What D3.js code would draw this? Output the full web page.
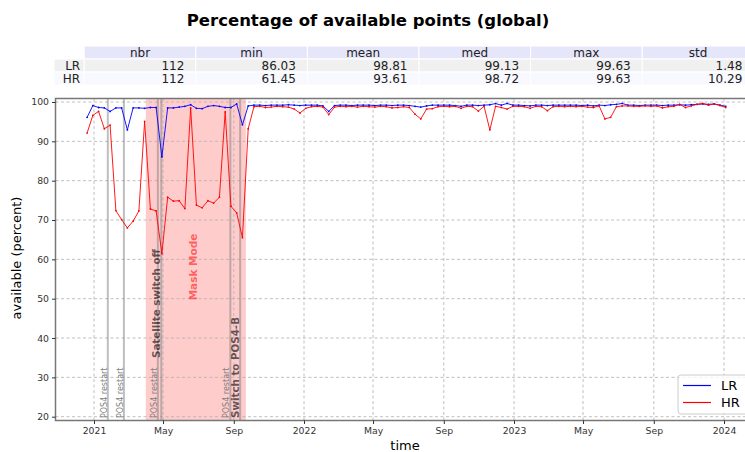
<!DOCTYPE html>
<html><head><meta charset="utf-8">
<script src="https://cdn.jsdelivr.net/npm/d3@7"></script>
<style>
body{margin:0;background:#fff;}
svg{display:block;font-family:"DejaVu Sans",sans-serif;}
</style>
</head><body>
<svg id="chart" width="745" height="452"></svg>
<script>
const dates = [
"2020-12-20","2020-12-30","2021-01-09","2021-01-19","2021-01-29","2021-02-08","2021-02-18","2021-02-28","2021-03-10","2021-03-20",
"2021-03-30","2021-04-09","2021-04-19","2021-04-29","2021-05-09","2021-05-19","2021-05-29","2021-06-08","2021-06-18","2021-06-28",
"2021-07-08","2021-07-18","2021-07-28","2021-08-07","2021-08-17","2021-08-27","2021-09-06","2021-09-16","2021-09-26","2021-10-06",
"2021-10-16","2021-10-26","2021-11-05","2021-11-15","2021-11-25","2021-12-05","2021-12-15","2021-12-25","2022-01-04","2022-01-14",
"2022-01-24","2022-02-03","2022-02-13","2022-02-23","2022-03-05","2022-03-15","2022-03-25","2022-04-04","2022-04-14","2022-04-24",
"2022-05-04","2022-05-14","2022-05-24","2022-06-03","2022-06-13","2022-06-23","2022-07-03","2022-07-13","2022-07-23","2022-08-02",
"2022-08-12","2022-08-22","2022-09-01","2022-09-11","2022-09-21","2022-10-01","2022-10-11","2022-10-21","2022-10-31","2022-11-10",
"2022-11-20","2022-11-30","2022-12-10","2022-12-20","2022-12-30","2023-01-09","2023-01-19","2023-01-29","2023-02-08","2023-02-18",
"2023-02-28","2023-03-10","2023-03-20","2023-03-30","2023-04-09","2023-04-19","2023-04-29","2023-05-09","2023-05-19","2023-05-29",
"2023-06-08","2023-06-18","2023-06-28","2023-07-08","2023-07-18","2023-07-28","2023-08-07","2023-08-17","2023-08-27","2023-09-06",
"2023-09-16","2023-09-26","2023-10-06","2023-10-16","2023-10-26","2023-11-05","2023-11-15","2023-11-25","2023-12-05","2023-12-15",
"2023-12-25","2024-01-04"];

const lrValues = [
96.1,99.1,98.6,98.5,97.6,98.5,98.5,92.9,98.5,98.5,
98.4,98.6,98.6,86.03,98.5,98.5,98.7,98.9,99.3,98.4,
98.3,98.9,99.1,98.9,98.6,98.6,99.5,94.2,99.0,99.2,
99.2,99.1,99.2,99.2,99.2,99.3,99.2,99.1,99.2,99.2,
99.2,99.0,97.6,99.1,99.2,99.2,99.1,99.2,99.2,99.2,
99.1,99.2,99.2,99.1,99.2,99.2,99.1,98.9,98.7,99.0,
99.2,99.2,99.2,99.2,99.1,98.9,99.2,99.2,99.1,99.2,
99.3,99.6,99.2,99.63,99.2,99.2,99.1,99.0,99.2,99.2,
99.1,99.2,99.2,99.2,99.2,99.2,99.1,99.2,99.0,99.2,
99.1,99.3,99.4,99.63,99.2,99.2,99.1,99.2,99.2,99.2,
99.1,99.2,99.2,99.3,99.2,99.3,99.4,99.5,99.4,99.5,
99.2,98.9];

const hrValues = [
92.1,96.6,97.6,93.2,94.1,72.4,70.1,68.0,69.7,72.3,
95.1,72.8,72.3,61.45,75.8,74.8,74.9,72.9,98.5,73.8,
73.1,74.9,74.3,75.8,97.5,73.5,71.8,65.5,93.2,98.8,
98.9,98.6,98.7,98.9,98.8,98.7,98.2,97.2,98.4,98.8,
98.9,98.7,96.8,98.7,98.9,98.8,98.9,98.7,98.9,98.8,
98.7,98.9,98.8,98.5,98.6,98.8,98.6,96.9,95.7,98.2,
98.3,98.8,98.9,98.8,98.9,98.4,98.9,98.8,97.7,98.9,
92.9,98.9,98.6,98.2,98.9,98.9,98.8,98.4,98.9,98.8,
97.8,98.8,98.9,98.8,98.9,98.8,98.9,98.7,98.6,99.0,
95.7,96.1,98.8,99.0,99.0,98.9,98.9,99.0,98.9,99.0,
98.5,98.8,98.9,99.4,98.6,99.0,99.4,99.63,99.2,99.5,
99.1,98.6];

const seriesNames = ["LR","HR"];
const seriesColors = ["#0000ff","#ff0000"];

const statColumns = ["nbr","min","mean","med","max","std"];
const statRows = ["LR","HR"];
const statValues = [
  ["112","86.03","98.81","99.13","99.63","1.48"],
  ["112","61.45","93.61","98.72","99.63","10.29"]
];

const eventDates = ["2021-01-25","2021-02-22","2021-04-22","2021-04-28","2021-08-26","2021-09-12"];
const eventLabels = ["POS4 restart","POS4 restart","POS4 restart","Satellite switch off","POS4 restart","Switch to POS4-B"];
const eventMajor = [false,false,false,true,false,true];
const maskStart = "2021-04-01", maskEnd = "2021-09-22", maskLabel = "Mask Mode";

const yTicks = [20,30,40,50,60,70,80,90,100];
const xTickDates = ["2021-01-01","2021-05-01","2021-09-01","2022-01-01","2022-05-01","2022-09-01","2023-01-01","2023-05-01","2023-09-01","2024-01-01"];

const title = "Percentage of available points (global)";
const xLabel = "time", yLabel = "available (percent)";

// ---------- drawing ----------
const svg = d3.select("#chart");
const parse = d3.utcParse("%Y-%m-%d");
const plot = {left:55.5, right:757, top:98.5, bottom:420.5};

const x = d3.scaleUtc().domain([parse("2021-01-01"), parse("2024-01-01")]).range([94, 724]);
const y = d3.scaleLinear().domain([20,100]).range([416.7,102]);

// title
svg.append("text").attr("x", 368).attr("y", 26).attr("text-anchor","middle")
  .attr("font-size", 16.5).attr("font-weight","bold").attr("fill","#000").text(title);

// table
const colW = 111.6, tabX = 84.2, rowH = 13, tabY = 46;
const tbl = svg.append("g");
statColumns.forEach((c,j)=>{
  tbl.append("rect").attr("x", tabX + j*colW).attr("y", tabY).attr("width", colW).attr("height", rowH)
    .attr("fill","#e6e6fa").attr("stroke","#fff").attr("stroke-width",1);
  tbl.append("text").attr("x", tabX + j*colW + colW/2).attr("y", tabY + rowH - 2.5)
    .attr("text-anchor","middle").attr("font-size",12).attr("fill","#222").text(c);
});
const rowFills = ["#f0f0f0","#f8f8ff"];
statRows.forEach((r,i)=>{
  const yy = tabY + rowH*(i+1);
  tbl.append("rect").attr("x", 54).attr("y", yy).attr("width", tabX-54).attr("height", rowH)
    .attr("fill", rowFills[i]).attr("stroke","#fff").attr("stroke-width",1);
  tbl.append("text").attr("x", tabX - 4).attr("y", yy + rowH - 2.5).attr("text-anchor","end")
    .attr("font-size",12).attr("fill","#222").text(r);
  statValues[i].forEach((v,j)=>{
    tbl.append("rect").attr("x", tabX + j*colW).attr("y", yy).attr("width", colW).attr("height", rowH)
      .attr("fill", rowFills[i]).attr("stroke","#fff").attr("stroke-width",1);
    tbl.append("text").attr("x", tabX + (j+1)*colW - 11.5).attr("y", yy + rowH - 2.5).attr("text-anchor","end")
      .attr("font-size",12).attr("fill","#222").text(v);
  });
});

// clip
svg.append("clipPath").attr("id","clip").append("rect")
  .attr("x", plot.left).attr("y", plot.top).attr("width", plot.right-plot.left).attr("height", plot.bottom-plot.top);
const g = svg.append("g").attr("clip-path","url(#clip)");

// mask region
g.append("rect").attr("x", x(parse(maskStart))).attr("y", plot.top)
  .attr("width", x(parse(maskEnd)) - x(parse(maskStart))).attr("height", plot.bottom-plot.top)
  .attr("fill","#ff0000").attr("fill-opacity",0.2);

// grid
const xTicks = xTickDates.map(parse);
g.selectAll(".vg").data(xTicks).enter().append("line")
  .attr("x1", d=>x(d)).attr("x2", d=>x(d)).attr("y1", plot.top).attr("y2", plot.bottom)
  .attr("stroke","#b0b0b0").attr("stroke-width",0.8).attr("stroke-dasharray","3,2.5");
g.selectAll(".hg").data(yTicks).enter().append("line")
  .attr("x1", plot.left).attr("x2", plot.right).attr("y1", d=>y(d)).attr("y2", d=>y(d))
  .attr("stroke","#b0b0b0").attr("stroke-width",0.8).attr("stroke-dasharray","3,2.5");

// event lines
eventDates.forEach((d,i)=>{
  const ex = x(parse(d));
  g.append("line").attr("x1",ex).attr("x2",ex).attr("y1",plot.top).attr("y2",plot.bottom)
    .attr("stroke","#808080").attr("stroke-opacity",0.5).attr("stroke-width",2);
});

// mask label
g.append("text").attr("transform",`translate(${197},${267}) rotate(-90)`)
  .attr("text-anchor","middle").attr("font-size",10.5).attr("font-weight","bold")
  .attr("fill","#ff0000").attr("fill-opacity",0.55).text(maskLabel);

// series
const allSeries = [lrValues, hrValues];
const line = d3.line().x((d,i)=>x(parse(dates[i]))).y(d=>y(d));
allSeries.forEach((vals,k)=>{
  g.append("path").datum(vals).attr("d", line).attr("fill","none")
    .attr("stroke", seriesColors[k]).attr("stroke-width",1).attr("stroke-opacity",0.9);
  g.selectAll(".pt"+k).data(vals).enter().append("circle")
    .attr("cx",(d,i)=>x(parse(dates[i]))).attr("cy",d=>y(d)).attr("r",0.9).attr("fill",seriesColors[k]);
});

// event labels
eventDates.forEach((d,i)=>{
  const ex = x(parse(d));
  if (eventMajor[i]) {
    const by = (eventLabels[i] === "Satellite switch off") ? 358 : 418;
    g.append("text").attr("transform",`translate(${ex-1},${by}) rotate(-90)`)
      .attr("font-size",10.3).attr("font-weight","bold").attr("fill","#000").attr("fill-opacity",0.6)
      .text(eventLabels[i]);
  } else {
    g.append("text").attr("transform",`translate(${ex-1},${418}) rotate(-90)`)
      .attr("font-size",8).attr("fill","#808080").text(eventLabels[i]);
  }
});

// spines
svg.append("rect").attr("x",plot.left).attr("y",plot.top).attr("width",plot.right-plot.left).attr("height",plot.bottom-plot.top)
  .attr("fill","none").attr("stroke","#777").attr("stroke-width",1.5);

// axes
const xAxis = d3.axisBottom(x).tickValues(xTicks).tickSize(3.5).tickPadding(3)
  .tickFormat(d => d.getUTCMonth()===0 ? d3.utcFormat("%Y")(d) : d3.utcFormat("%b")(d));
const gx = svg.append("g").attr("transform",`translate(0,${plot.bottom})`).call(xAxis);
gx.select(".domain").remove();
gx.selectAll("text").attr("font-size",9.3).attr("fill","#333").attr("font-family","DejaVu Sans");
gx.selectAll("line").attr("stroke","#333");

const yAxis = d3.axisLeft(y).tickValues(yTicks).tickSize(3.5).tickPadding(3);
const gy = svg.append("g").attr("transform",`translate(${plot.left},0)`).call(yAxis);
gy.select(".domain").remove();
gy.selectAll("text").attr("font-size",9.3).attr("fill","#333").attr("font-family","DejaVu Sans");
gy.selectAll("line").attr("stroke","#333");

svg.append("text").attr("x",405).attr("y",450).attr("text-anchor","middle").attr("font-size",13).attr("fill","#000").text(xLabel);
svg.append("text").attr("transform","translate(21,258) rotate(-90)").attr("text-anchor","middle")
  .attr("font-size",13).attr("fill","#000").text(yLabel);

// legend
const lg = svg.append("g");
lg.append("rect").attr("x",678).attr("y",375).attr("width",80).attr("height",39).attr("rx",3)
  .attr("fill","#fff").attr("fill-opacity",0.8).attr("stroke","#ccc");
seriesNames.forEach((n,k)=>{
  const ly = 385.5 + k*17;
  lg.append("line").attr("x1",683).attr("x2",711).attr("y1",ly).attr("y2",ly)
    .attr("stroke",seriesColors[k]).attr("stroke-width",1.2);
  lg.append("text").attr("x",721).attr("y",ly+4.5).attr("font-size",13).attr("fill","#000").text(n);
});
</script>
</body></html>
